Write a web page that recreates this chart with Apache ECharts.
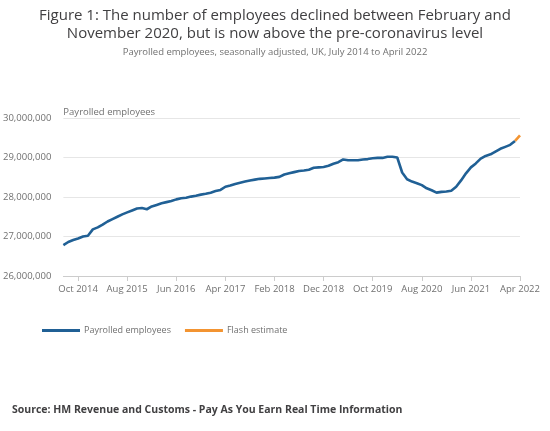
<!DOCTYPE html>
<html>
<head>
<meta charset="utf-8">
<script src="https://cdn.jsdelivr.net/npm/echarts@6/dist/echarts.min.js"></script>
<style>
html,body{margin:0;padding:0;background:#fff;}
#chart{width:550px;height:431px;}
</style>
</head>
<body>
<div id="chart"></div>
<script>
var months = [
 'Jul 2014','Aug 2014','Sep 2014','Oct 2014','Nov 2014','Dec 2014',
 'Jan 2015','Feb 2015','Mar 2015','Apr 2015','May 2015','Jun 2015','Jul 2015','Aug 2015','Sep 2015','Oct 2015','Nov 2015','Dec 2015',
 'Jan 2016','Feb 2016','Mar 2016','Apr 2016','May 2016','Jun 2016','Jul 2016','Aug 2016','Sep 2016','Oct 2016','Nov 2016','Dec 2016',
 'Jan 2017','Feb 2017','Mar 2017','Apr 2017','May 2017','Jun 2017','Jul 2017','Aug 2017','Sep 2017','Oct 2017','Nov 2017','Dec 2017',
 'Jan 2018','Feb 2018','Mar 2018','Apr 2018','May 2018','Jun 2018','Jul 2018','Aug 2018','Sep 2018','Oct 2018','Nov 2018','Dec 2018',
 'Jan 2019','Feb 2019','Mar 2019','Apr 2019','May 2019','Jun 2019','Jul 2019','Aug 2019','Sep 2019','Oct 2019','Nov 2019','Dec 2019',
 'Jan 2020','Feb 2020','Mar 2020','Apr 2020','May 2020','Jun 2020','Jul 2020','Aug 2020','Sep 2020','Oct 2020','Nov 2020','Dec 2020',
 'Jan 2021','Feb 2021','Mar 2021','Apr 2021','May 2021','Jun 2021','Jul 2021','Aug 2021','Sep 2021','Oct 2021','Nov 2021','Dec 2021',
 'Jan 2022','Feb 2022','Mar 2022','Apr 2022'
];

// Payrolled employees (Jul 2014 - Mar 2022)
var payrolled = [
 26780000,26860000,26910000,26950000,27000000,27020000,
 27180000,27230000,27300000,27380000,27440000,27500000,27560000,27610000,27660000,27710000,27720000,27690000,
 27760000,27800000,27840000,27870000,27900000,27940000,27970000,27980000,28010000,28030000,28060000,28080000,
 28110000,28150000,28180000,28260000,28290000,28330000,28360000,28390000,28420000,28440000,28460000,28470000,
 28480000,28490000,28510000,28570000,28600000,28630000,28660000,28670000,28690000,28740000,28750000,28760000,
 28790000,28840000,28880000,28950000,28930000,28930000,28930000,28950000,28960000,28980000,28990000,28990000,
 29020000,29020000,29000000,28620000,28450000,28390000,28350000,28300000,28220000,28170000,28110000,28130000,
 28140000,28160000,28260000,28420000,28600000,28750000,28850000,28970000,29040000,29080000,29150000,29220000,
 29270000,29320000,29420000
];

// Flash estimate (Mar 2022 - Apr 2022)
var flashMonths = ['Mar 2022','Apr 2022'];
var flashValues = [29420000,29560000];

var yTicks = [26000000,27000000,28000000,29000000,30000000];

var payrolledData = months.map(function(m,i){ return i < payrolled.length ? payrolled[i] : null; });
var flashData = months.map(function(m){ var k = flashMonths.indexOf(m); return k >= 0 ? flashValues[k] : null; });

var firstLabel = months.indexOf('Oct 2014');
function showTick(i){ return i >= firstLabel && (i - firstLabel) % 10 === 0; }

var chart = echarts.init(document.getElementById('chart'), null, {renderer:'canvas'});
var font = '"Open Sans", "Noto Sans", sans-serif';
var titleStyle = {fontFamily:font, fontSize:15, fontWeight:'normal', color:'#414042'};
chart.setOption({
  animation:false,
  textStyle:{fontFamily:font},
  title:[
    {text:'Figure 1: The number of employees declined between February and',
     left:'center', top:3, textStyle:titleStyle},
    {text:'November 2020, but is now above the pre-coronavirus level',
     left:'center', top:21, textStyle:titleStyle},
    {text:'Payrolled employees, seasonally adjusted, UK, July 2014 to April 2022',
     left:'center', top:42,
     textStyle:{fontFamily:font, fontSize:9.5, fontWeight:'normal', color:'#707070'}},
    {text:'Source: HM Revenue and Customs - Pay As You Earn Real Time Information',
     left:7, top:400,
     textStyle:{fontFamily:font, fontSize:10.5, fontWeight:'bold', color:'#414042'}}
  ],
  legend:{
    left:37, top:321,
    itemWidth:38, itemHeight:3, itemGap:14,
    icon:'rect',
    textStyle:{fontFamily:font, fontSize:9, color:'#707070', padding:[0,0,0,-1]},
    data:['Payrolled employees','Flash estimate']
  },
  grid:{left:63, right:30, top:118, bottom:155},
  xAxis:{
    type:'category', data:months, boundaryGap:false,
    axisLine:{show:true, lineStyle:{color:'#cccccc'}},
    axisTick:{show:true, interval:function(i){return showTick(i);}, length:5, lineStyle:{color:'#cccccc'}},
    axisLabel:{interval:function(i){return showTick(i);}, fontFamily:font, fontSize:9.5, color:'#707070', margin:8},
    splitLine:{show:false}
  },
  yAxis:{
    type:'value', min:yTicks[0], max:yTicks[yTicks.length-1], interval:1000000,
    name:'Payrolled employees', nameLocation:'end', nameGap:1,
    nameTextStyle:{fontFamily:font, fontSize:9.5, color:'#707070', align:'left'},
    axisLine:{show:false}, axisTick:{show:false},
    axisLabel:{fontFamily:font, fontSize:9.5, color:'#707070', margin:12,
      formatter:function(v){ return v.toLocaleString('en-GB'); }},
    splitLine:{lineStyle:{color:'#e6e6e6', width:1}}
  },
  series:[
    {name:'Payrolled employees', type:'line', data:payrolledData, showSymbol:false, symbol:'none',
     itemStyle:{color:'#206095'}, lineStyle:{color:'#206095', width:2.6}, connectNulls:false},
    {name:'Flash estimate', type:'line', data:flashData, showSymbol:false, symbol:'none',
     itemStyle:{color:'#f39431'}, lineStyle:{color:'#f39431', width:2.6}, connectNulls:false}
  ]
});
</script>
</body>
</html>
